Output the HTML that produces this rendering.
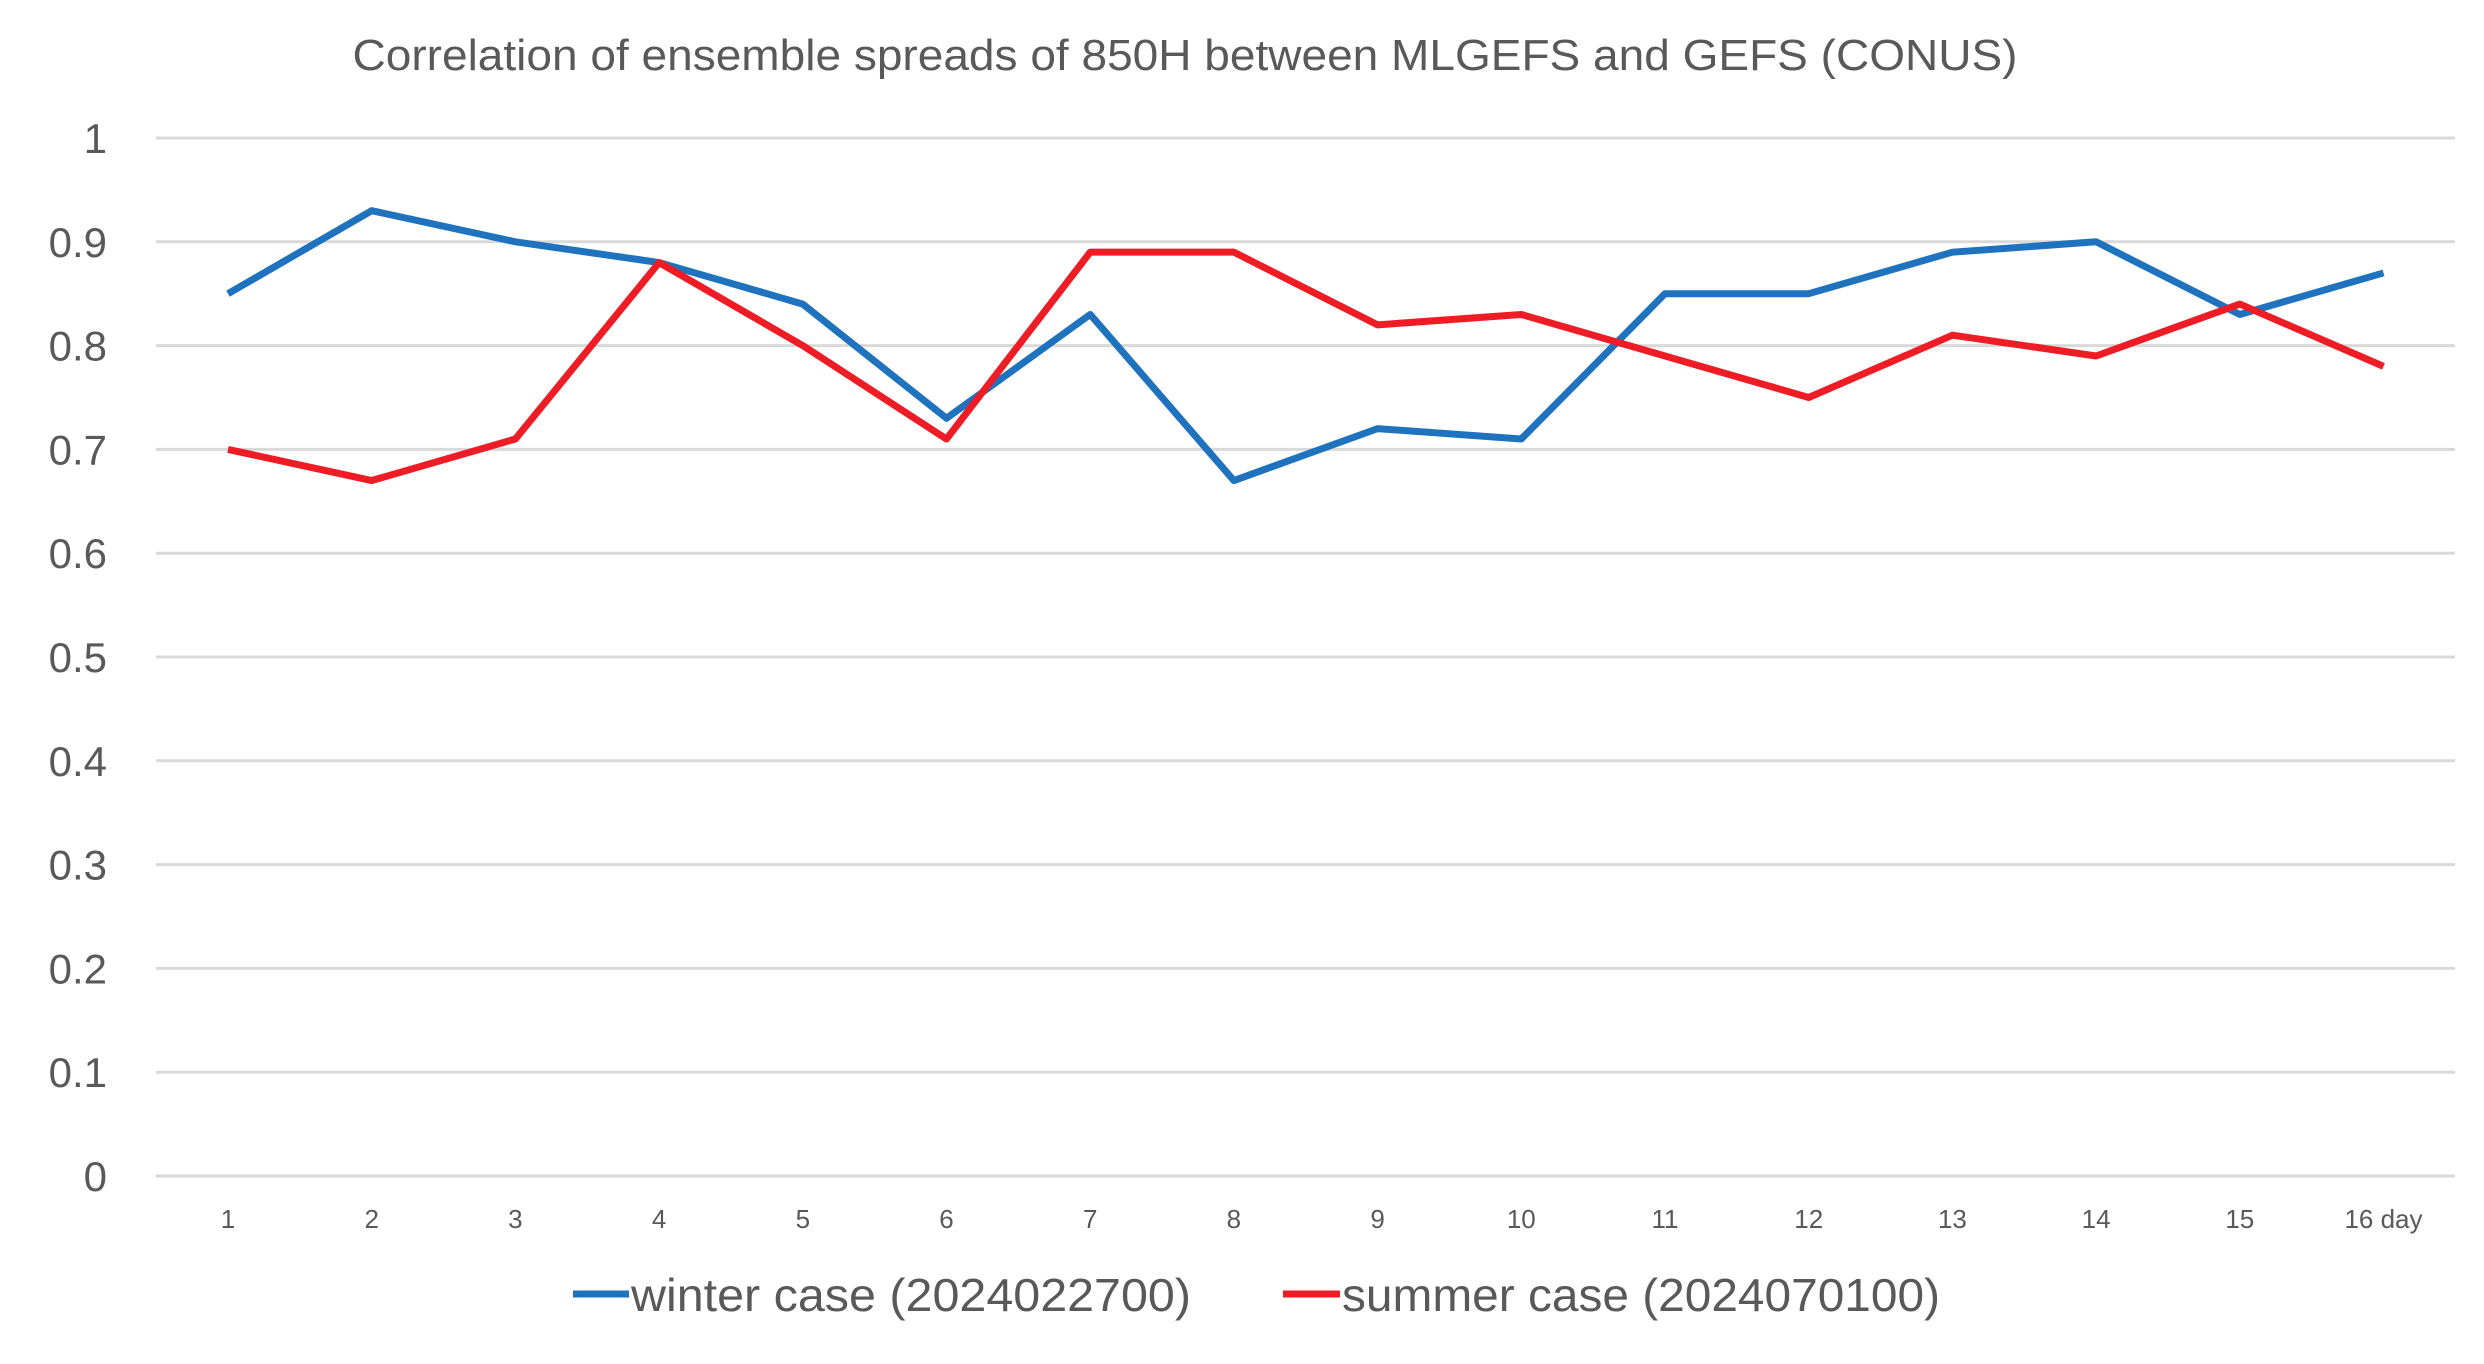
<!DOCTYPE html>
<html><head><meta charset="utf-8"><style>
html,body{margin:0;padding:0;background:#fff;}
svg{display:block;font-family:"Liberation Sans",sans-serif;}
</style></head><body>
<svg id="chart" width="2484" height="1364" viewBox="0 0 2484 1364">
<text x="1185" y="70" text-anchor="middle" font-size="44" fill="#595959" textLength="1665" lengthAdjust="spacingAndGlyphs">Correlation of ensemble spreads of 850H between MLGEFS and GEFS (CONUS)</text>
<g id="grid"></g><g id="yt"></g><g id="xt"></g><g id="lines"></g>
<g>
<line x1="573" y1="1294" x2="629" y2="1294" stroke="#1f73be" stroke-width="7"/>
<text x="631" y="1311" font-size="46" fill="#595959" textLength="560" lengthAdjust="spacingAndGlyphs">winter case (2024022700)</text>
<line x1="1283" y1="1294" x2="1340" y2="1294" stroke="#ee1c25" stroke-width="7"/>
<text x="1342" y="1311" font-size="46" fill="#595959" textLength="598" lengthAdjust="spacingAndGlyphs">summer case (2024070100)</text>
</g>
</svg>
<script>
const categories=["1","2","3","4","5","6","7","8","9","10","11","12","13","14","15","16 day"];
const winter=[0.85,0.93,0.90,0.88,0.84,0.73,0.83,0.67,0.72,0.71,0.85,0.85,0.89,0.90,0.83,0.87];
const summer=[0.70,0.67,0.71,0.88,0.80,0.71,0.89,0.89,0.82,0.83,0.79,0.75,0.81,0.79,0.84,0.78];
const yTicks=[0,0.1,0.2,0.3,0.4,0.5,0.6,0.7,0.8,0.9,1];
const NS="http://www.w3.org/2000/svg";
const x0=228,xStep=143.7,yBase=1176,yTop=138;
function xs(i){return x0+i*xStep;}
function ys(v){return yBase-(v/1)*(yBase-yTop);}
function mk(t,a,p){const e=document.createElementNS(NS,t);for(const k in a)e.setAttribute(k,a[k]);p.appendChild(e);return e;}
const grid=document.getElementById('grid'),yt=document.getElementById('yt'),xt=document.getElementById('xt'),lines=document.getElementById('lines');
yTicks.forEach(v=>{
 const l=mk('line',{x1:156,x2:2455,y1:ys(v),y2:ys(v),stroke:'#d9d9d9','stroke-width':3},grid);
 
 
 const t=mk('text',{x:107,y:ys(v)+15,'text-anchor':'end','font-size':42,fill:'#595959'},yt);
 t.textContent=String(v);
 
 
});
categories.forEach((c,i)=>{
 const t=mk('text',{x:xs(i),y:1228,'text-anchor':'middle','font-size':26,fill:'#595959'},xt);
 t.textContent=c;
 
 
});
function series(d,col,name){
 const p=mk('polyline',{points:d.map((v,i)=>xs(i)+','+ys(v)).join(' '),fill:'none',stroke:col,'stroke-width':7,'stroke-linejoin':'round'},lines);
 
 
}
series(winter,'#1f73be','winter-series-line');
series(summer,'#ee1c25','summer-series-line');
</script>
</body></html>
